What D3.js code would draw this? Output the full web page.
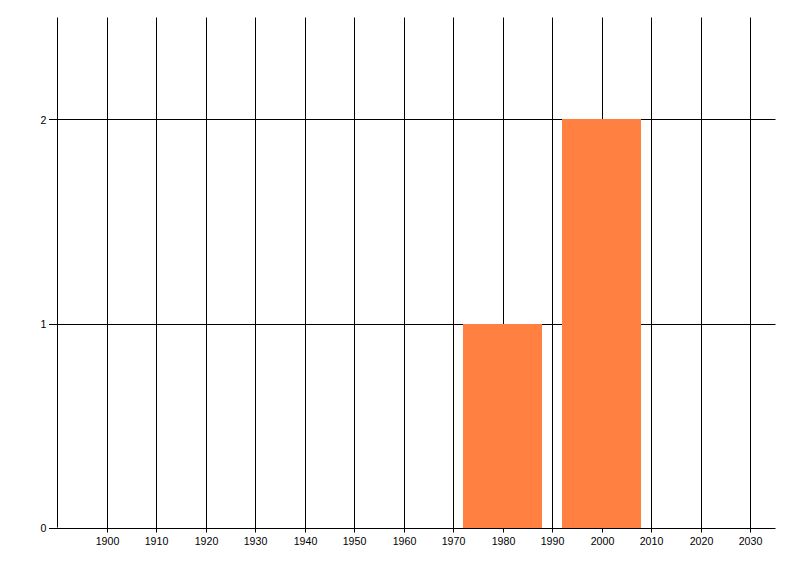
<!DOCTYPE html>
<html><head><meta charset="utf-8">
<script src="https://cdn.jsdelivr.net/npm/d3@7"></script>
<style>body{margin:0;background:#fff}svg text{font-family:"Liberation Sans",Arial,sans-serif;font-size:10.6px;fill:#000}</style>
</head><body>
<svg id="c" width="800" height="576"></svg>
<script>
const categories = [1980, 2000];
const binWidth = [16, 16];
const values = [1, 2];
const xTicks = [1900,1910,1920,1930,1940,1950,1960,1970,1980,1990,2000,2010,2020,2030];
const yTicks = [0,1,2];

const svg = d3.select("#c");
const x = d3.scaleLinear().domain([1890, 2035]).range([57.5, 775.5]);
const y = d3.scaleLinear().domain([0, 2.5]).range([527.5, 17.5]);
const fx = v => Math.floor(x(v));

// vertical gridlines
svg.append("g").selectAll("line").data([1890].concat(xTicks)).join("line")
  .attr("x1", d => fx(d) + 0.5).attr("x2", d => fx(d) + 0.5)
  .attr("y1", y(2.5)).attr("y2", d => d === 1890 ? y(0) : y(0) + 5)
  .attr("stroke", "#000").attr("stroke-width", 1);

// horizontal gridlines
svg.append("g").selectAll("line").data(yTicks).join("line")
  .attr("x1", 49).attr("x2", x(2035))
  .attr("y1", d => Math.round(y(d)) + 0.5).attr("y2", d => Math.round(y(d)) + 0.5)
  .attr("stroke", "#000").attr("stroke-width", 1);

// bars
svg.append("g").attr("shape-rendering", "crispEdges").selectAll("rect").data(categories).join("rect")
  .attr("x", (d,i) => fx(d - binWidth[i]/2))
  .attr("width", (d,i) => fx(d + binWidth[i]/2) - fx(d - binWidth[i]/2))
  .attr("y", (d,i) => Math.round(y(values[i])))
  .attr("height", (d,i) => Math.round(y(0)) - Math.round(y(values[i])))
  .attr("fill", "#FF8040");

// x labels
svg.append("g").selectAll("text").data(xTicks).join("text")
  .attr("x", d => fx(d) + 0.5).attr("y", 545).attr("text-anchor", "middle").text(d => d);

// y labels
svg.append("g").selectAll("text").data(yTicks).join("text")
  .attr("x", 46.5).attr("y", d => y(d) + 4).attr("text-anchor", "end").text(d => d);
</script>
</body></html>
